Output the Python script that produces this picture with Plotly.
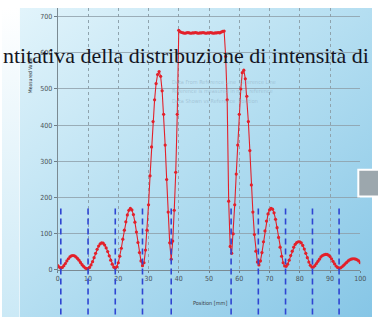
import base64
import plotly.graph_objects as go

W, H = 378, 321

# ---- data ----
position_mm = [
    0, 0.5, 1, 1.5, 2, 2.5, 3, 3.5, 4, 4.5, 5, 5.5, 6, 6.5, 7, 7.5, 8, 8.5, 9, 9.5,
    10, 10.5, 11, 11.5, 12, 12.5, 13, 13.5, 14, 14.5, 15, 15.5, 16, 16.5, 17, 17.5, 18, 18.5, 19, 19.5,
    20, 20.5, 21, 21.5, 22, 22.5, 23, 23.5, 24, 24.5, 25, 25.5, 26, 26.5, 27, 27.5, 28, 28.5, 29, 29.5,
    30, 30.5, 31, 31.5, 32, 32.5, 33, 33.5, 34, 34.5, 35, 35.5, 36, 36.5, 37, 37.5, 38, 38.5, 39, 39.5,
    40, 40.5, 41, 41.5, 42, 42.5, 43, 43.5, 44, 44.5, 45, 45.5, 46, 46.5, 47, 47.5, 48, 48.5, 49, 49.5,
    50, 50.5, 51, 51.5, 52, 52.5, 53, 53.5, 54, 54.5, 55, 55.5, 56, 56.5, 57, 57.5, 58, 58.5, 59, 59.5,
    60, 60.5, 61, 61.5, 62, 62.5, 63, 63.5, 64, 64.5, 65, 65.5, 66, 66.5, 67, 67.5, 68, 68.5, 69, 69.5,
    70, 70.5, 71, 71.5, 72, 72.5, 73, 73.5, 74, 74.5, 75, 75.5, 76, 76.5, 77, 77.5, 78, 78.5, 79, 79.5,
    80, 80.5, 81, 81.5, 82, 82.5, 83, 83.5, 84, 84.5, 85, 85.5, 86, 86.5, 87, 87.5, 88, 88.5, 89, 89.5,
    90, 90.5, 91, 91.5, 92, 92.5, 93, 93.5, 94, 94.5, 95, 95.5, 96, 96.5, 97, 97.5, 98, 98.5, 99, 99.5,
    100,
]
measured_value = [
    12, 8, 5, 7, 12, 18, 25, 31, 36, 39, 40, 39, 36, 32, 27, 21, 15, 10, 6, 4,
    4, 7, 14, 23, 34, 46, 57, 66, 72, 75, 74, 69, 61, 51, 39, 27, 16, 8, 5, 9,
    20, 38, 60, 85, 110, 133, 152, 165, 170, 166, 153, 132, 105, 76, 48, 25, 12, 20, 55, 110,
    180, 260, 340, 410, 470, 515, 540, 548, 535, 495, 430, 345, 250, 160, 75, 30, 80, 165, 270, 430,
    662, 658, 656, 655, 654, 655, 656, 655, 654, 655, 655, 656, 655, 654, 655, 655, 656, 655, 654, 655,
    655, 656, 655, 654, 655, 655, 656, 655, 657, 659, 660, 590, 470, 190, 65, 46, 100, 180, 265, 345,
    430, 500, 545, 552, 528, 480, 410, 330, 235, 160, 98, 52, 22, 14, 25, 48, 78, 108, 135, 155,
    166, 170, 168, 158, 140, 117, 90, 63, 38, 20, 11, 10, 16, 27, 40, 52, 63, 71, 76, 78,
    78, 75, 68, 58, 46, 34, 22, 13, 8, 8, 12, 18, 24, 30, 36, 40, 42, 43, 43, 41,
    37, 31, 24, 17, 11, 7, 5, 6, 9, 13, 17, 21, 25, 28, 30, 31, 31, 30, 28, 25,
    20,
]

# blue dashed markers at the minima
minima_positions = [1, 10, 19, 28, 37.5, 57.3, 66.3, 75.3, 84.2, 93]
marker_top = 170
marker_bottom = -130

x_ticks = [0, 10, 20, 30, 40, 50, 60, 70, 80, 90, 100]
x_tick_labels = ["0", "10", "20", "30", "40", "50", "60", "70", "80", "90", "100"]
y_ticks = [0, 100, 200, 300, 400, 500, 600, 700]
y_tick_labels = ["0", "100", "200", "300", "400", "500", "600", "700"]

title_text = "ntitativa della distribuzione di intensità di"
x_title = "Position [mm]"
y_title = "Measured Value"
legend_lines = ["Data From Reference Line  Reference Line",
                "Reference is measured in mm  reference",
                "Data Shown vs Reference  Position"]


# ---- helpers (window pixel -> paper) ----
def px(x):
    return x / W


def py(y):
    return 1 - y / H


# dashed marker segments
dash_x, dash_y = [], []
for p in minima_positions:
    dash_x += [p, p, None]
    dash_y += [marker_top, marker_bottom, None]

RED = "#e3202a"
fig = go.Figure()
fig.add_trace(go.Scatter(
    x=position_mm, y=measured_value, mode="lines+markers",
    line=dict(color=RED, width=1.1),
    marker=dict(color=RED, size=3.2),
    xaxis="x", yaxis="y", showlegend=False, hoverinfo="skip",
))
fig.add_trace(go.Scatter(
    x=dash_x, y=dash_y, mode="lines",
    line=dict(color="#2f45d2", width=1.6, dash="6px,4px"),
    xaxis="x2", yaxis="y2", showlegend=False, hoverinfo="skip",
))

# gradient panel background (svg data uri)
svg_panel = (
    '<svg xmlns="http://www.w3.org/2000/svg" width="360" height="313">'
    '<defs><linearGradient id="g" x1="0" y1="0" x2="1" y2="1">'
    '<stop offset="0" stop-color="#e2f4fb"/>'
    '<stop offset="0.5" stop-color="#b4def1"/>'
    '<stop offset="1" stop-color="#86c6e6"/>'
    '</linearGradient></defs>'
    '<rect width="360" height="313" fill="url(#g)"/></svg>'
)
svg_strip = (
    '<svg xmlns="http://www.w3.org/2000/svg" width="18" height="313">'
    '<defs><linearGradient id="h" x1="0" y1="0" x2="0" y2="1">'
    '<stop offset="0" stop-color="#ffffff"/>'
    '<stop offset="1" stop-color="#cbe9f6"/>'
    '</linearGradient></defs>'
    '<rect width="18" height="313" fill="url(#h)"/></svg>'
)


def uri(s):
    return "data:image/svg+xml;base64," + base64.b64encode(s.encode()).decode()


TICKFONT = dict(family="Liberation Sans Narrow, DejaVu Sans Condensed, sans-serif", size=7, color="#4b5358")

fig.update_layout(
    width=W, height=H, autosize=False,
    margin=dict(l=0, r=0, t=0, b=0),
    paper_bgcolor="white", plot_bgcolor="rgba(0,0,0,0)",
    images=[
        dict(source=uri(svg_panel), xref="paper", yref="paper",
             x=px(18), y=py(8), sizex=px(360), sizey=313 / H,
             xanchor="left", yanchor="top", sizing="stretch", layer="below"),
        dict(source=uri(svg_strip), xref="paper", yref="paper",
             x=0, y=py(8), sizex=px(18), sizey=313 / H,
             xanchor="left", yanchor="top", sizing="stretch", layer="below"),
    ],
    xaxis=dict(
        domain=[px(57), px(366)], range=[0, 100], anchor="y",
        tickvals=x_ticks, ticktext=x_tick_labels,
        ticks="outside", ticklen=2, tickcolor="#6f7f88", tickfont=TICKFONT,
        showgrid=True, gridcolor="#8fa3ad", griddash="dot", gridwidth=1,
        showline=True, linecolor="#7b8a92", linewidth=1,
        zeroline=False, fixedrange=True,
    ),
    yaxis=dict(
        domain=[py(273.4), py(8)], range=[0, 724], anchor="x",
        tickvals=y_ticks, ticktext=y_tick_labels,
        ticks="outside", ticklen=3, tickcolor="#6f7f88", tickfont=TICKFONT,
        showgrid=True, gridcolor="#8d9ea8", gridwidth=0.8,
        showline=True, linecolor="#7b8a92", linewidth=1,
        zeroline=False, fixedrange=True,
    ),
    xaxis2=dict(domain=[px(57), px(366)], range=[0, 100], anchor="y2",
                visible=False, showgrid=False, fixedrange=True),
    yaxis2=dict(domain=[0, py(8)], range=[-129.8, 724], anchor="x2",
                visible=False, showgrid=False, fixedrange=True),
    shapes=[
        dict(type="rect", xref="paper", yref="paper",
             x0=px(364), x1=px(390), y0=py(199), y1=py(172),
             fillcolor="#9ca7ad", line=dict(color="white", width=2), layer="above"),
    ],
)

annotations = [
    dict(text=title_text, xref="paper", yref="paper", x=px(377), y=py(56),
         xanchor="right", yanchor="middle", showarrow=False,
         font=dict(family="Liberation Serif, Times New Roman, serif", size=22, color="#15151f")),
    dict(text=x_title, xref="paper", yref="paper", x=px(213), y=py(307),
         xanchor="center", yanchor="middle", showarrow=False,
         font=dict(family="Liberation Sans Narrow, DejaVu Sans Condensed, sans-serif", size=5.5, color="#3a4246")),
    dict(text=y_title, xref="paper", yref="paper", x=px(28), y=py(96),
         xanchor="center", yanchor="bottom", textangle=-90, showarrow=False,
         font=dict(family="DejaVu Sans Condensed, sans-serif", size=5, color="#2a3236")),
]
for i, line in enumerate(legend_lines):
    annotations.append(dict(
        text=line, xref="paper", yref="paper", x=px(172), y=py(83 + i * 9.5),
        xanchor="left", yanchor="middle", showarrow=False,
        font=dict(family="Liberation Sans Narrow, DejaVu Sans Condensed, sans-serif", size=5.5,
                  color="rgba(140,170,190,0.55)")))
fig.update_layout(annotations=annotations)

fig.write_html(
    "out.html",
    config={"displayModeBar": False, "staticPlot": True},
    post_script="document.body.style.margin='0';document.body.style.overflow='hidden';",
)
